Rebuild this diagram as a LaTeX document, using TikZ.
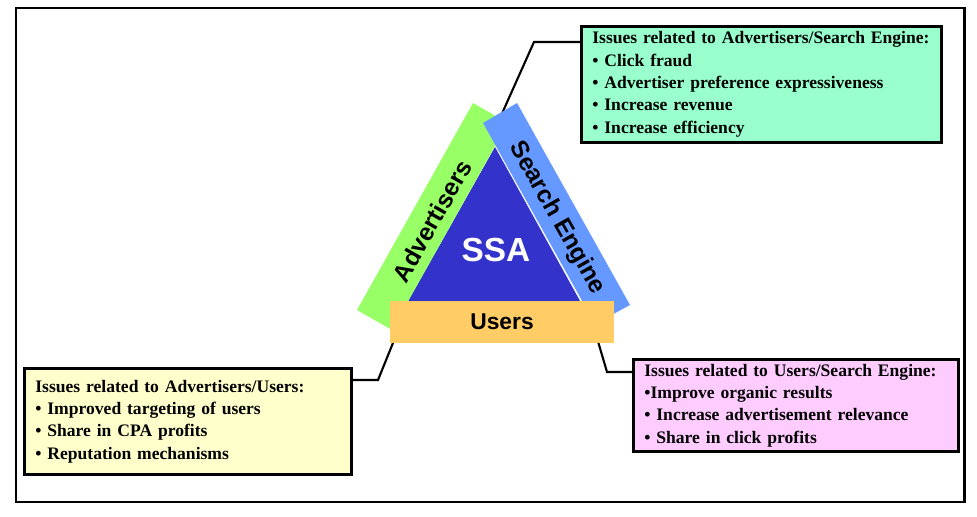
\documentclass[tikz,border=0pt]{standalone}
\usepackage{fontspec}
\setmainfont{Liberation Serif}
\newfontfamily\bandfont{Liberation Sans}
\definecolor{advgreen}{RGB}{153,255,102}
\definecolor{seblue}{RGB}{102,153,255}
\definecolor{ssablue}{RGB}{51,51,204}
\definecolor{userorange}{RGB}{255,204,102}
\definecolor{mintbox}{RGB}{153,255,204}
\definecolor{creambox}{RGB}{255,255,204}
\definecolor{pinkbox}{RGB}{255,204,255}

\begin{document}
\begin{tikzpicture}[x=0.02cm, y=-0.02cm,
  issuebox/.style={draw=black, line width=1.6pt, anchor=north west, align=left,
    inner xsep=0.22cm, inner ysep=1pt,
    font=\bfseries\fontsize{10}{12.7}\selectfont},
  bandlabel/.style={font=\bandfont\bfseries\fontsize{14}{16}\selectfont, inner sep=0pt},
  link/.style={draw=black, line width=1.2pt}]

% ===== canvas and outer frame (pixel-like units, y downwards) =====
\useasboundingbox (0,0) rectangle (977,517);
\draw[line width=1.7pt] (16,8) rectangle (964,502);

% ===== ISSUE BOXES =====
\node[issuebox, fill=mintbox, minimum width=7.2cm, minimum height=2.32cm,
  text width=6.76cm] (advse) at (580,25) {%
  Issues related to Advertisers/Search Engine:\\
  \textbullet{} Click fraud\\
  \textbullet{} Advertiser preference expressiveness\\
  \textbullet{} Increase revenue\\
  \textbullet{} Increase efficiency};

\node[issuebox, fill=creambox, minimum width=6.54cm, minimum height=2.12cm,
  text width=6.1cm] (advu) at (23,367) {%
  Issues related to Advertisers/Users:\\
  \textbullet{} Improved targeting of users\\
  \textbullet{} Share in CPA profits\\
  \textbullet{} Reputation mechanisms};

\node[issuebox, fill=pinkbox, minimum width=6.5cm, minimum height=1.84cm,
  text width=6.06cm] (usse) at (632,358) {%
  Issues related to Users/Search Engine:\\
  \textbullet Improve organic results\\
  \textbullet{} Increase advertisement relevance\\
  \textbullet{} Share in click profits};

% ===== CONNECTORS (drawn below the triangle) =====
\coordinate (asKnee) at (534,42);
\coordinate (asEnd)  at (500,118);
\coordinate (auKnee) at (378,380);
\coordinate (auEnd)  at (395,338);
\coordinate (usKnee) at (607,372);
\coordinate (usEnd)  at (597,338);

\draw[link] (advse.west |- asKnee) -- (asKnee) -- (asEnd);
\draw[link] (advu.east |- auKnee) -- (auKnee) -- (auEnd);
\draw[link] (usse.west |- usKnee) -- (usKnee) -- (usEnd);

% ===== TRIANGLE =====
% inner SSA triangle, its edges run along the inner sides of the bands
\fill[ssablue] (403,310) -- (585,310) -- (495,147) -- cycle;
\node[font=\bandfont\bfseries\fontsize{19}{21}\selectfont, text=white, inner sep=0pt]
  (ssa) at (496,250) {SSA};

% Advertisers band (left side)
\fill[advgreen] (473,103) -- (508,123) -- (392,330) -- (357,310) -- cycle;
\node[bandlabel, rotate=60.5] (adv) at (432,221) {Advertisers};

% Search Engine band (right side), lies over the green one at the top
\fill[seblue] (483,123) -- (517,103) -- (630,305) -- (595,324) -- cycle;
\node[bandlabel, rotate=-60.5] (se) at (557,218) {Search Engine};

% Users band (bottom)
\node[fill=userorange, minimum width=4.48cm, minimum height=0.84cm, inner sep=0pt,
  font=\bandfont\bfseries\fontsize{13}{15}\selectfont] (users) at (502,322) {Users};

\end{tikzpicture}
\end{document}
